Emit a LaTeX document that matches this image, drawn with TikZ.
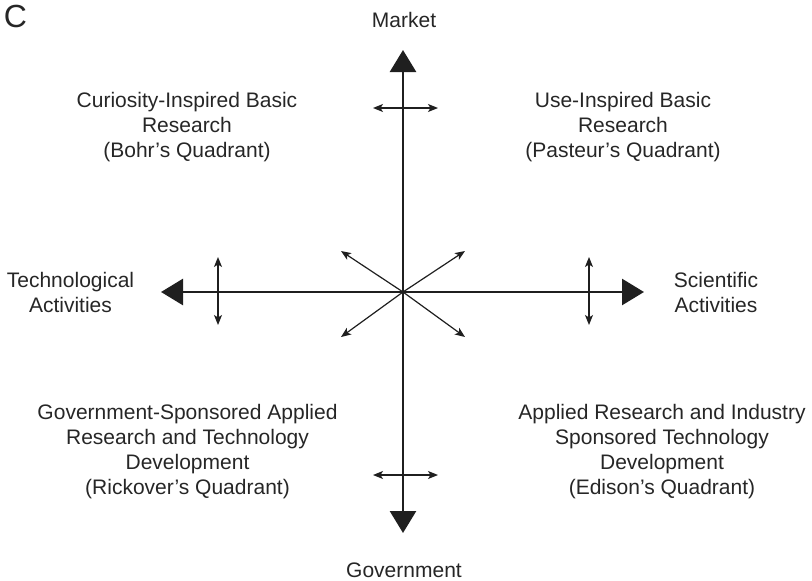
\documentclass[tikz,border=0pt]{standalone}
\usepackage{fontspec}
\setmainfont{Liberation Sans}
\usetikzlibrary{arrows.meta}
\tikzset{
  lbl/.style={font=\fontsize{21}{25}\selectfont, inner sep=0pt, align=center, anchor=base, text=black!85},
  axis/.style={line width=2.7pt, draw=black!88, -{Triangle[length=22pt,width=26pt]}},
  small/.style={line width=1.2pt, draw=black!88, {Stealth[length=10pt,width=8pt,inset=2.5pt]}-{Stealth[length=10pt,width=8pt,inset=2.5pt]}},
  diag/.style={line width=1.2pt, draw=black!88, -{Stealth[length=10pt,width=8pt,inset=2.5pt]}}
}
\begin{document}
\begin{tikzpicture}[x=1pt,y=-1pt]
\useasboundingbox (0,0) rectangle (812,581);
\coordinate (O) at (403,292);
\coordinate (N) at (403,50);
\coordinate (S) at (403,533);
\coordinate (W) at (161,292);
\coordinate (E) at (644,292);
\draw[axis] (O) -- (N);
\draw[axis] (O) -- (S);
\draw[axis] (O) -- (W);
\draw[axis] (O) -- (E);
% small double arrows
\coordinate (t1) at (373,108); \coordinate (t2) at (438,108);
\coordinate (b1) at (373,475); \coordinate (b2) at (438,475);
\coordinate (l1) at (218,257); \coordinate (l2) at (218,325);
\coordinate (r1) at (589,257); \coordinate (r2) at (589,325);
\draw[small] (t1) -- (t2);
\draw[small] (b1) -- (b2);
\draw[small] (l1) -- (l2);
\draw[small] (r1) -- (r2);
% diagonals
\coordinate (ne) at (465,251);
\coordinate (nw) at (341,251);
\coordinate (se) at (465,337);
\coordinate (sw) at (341,337);
\draw[diag] (O) -- (ne);
\draw[diag] (O) -- (nw);
\draw[diag] (O) -- (se);
\draw[diag] (O) -- (sw);
% labels (base anchor = baseline of the last line)
\node[lbl, font=\fontsize{32}{36}\selectfont, anchor=base] (c) at (15.5,27) {C};
\node[lbl] (market) at (404,27) {Market};
\node[lbl] (gov) at (404,577) {Government};
\node[lbl] (tech) at (70.5,312) {Technological\\Activities};
\node[lbl] (sci) at (716,312) {Scientific\\Activities};
\node[lbl] (bohr) at (187,157) {Curiosity-Inspired Basic\\Research\\(Bohr’s Quadrant)};
\node[lbl] (pasteur) at (623,157) {Use-Inspired Basic\\Research\\(Pasteur’s Quadrant)};
\node[lbl] (rick) at (187.5,494) {Government-Sponsored Applied\\Research and Technology\\Development\\(Rickover’s Quadrant)};
\node[lbl] (edison) at (662,494) {Applied Research and Industry\\Sponsored Technology\\Development\\(Edison’s Quadrant)};
\end{tikzpicture}
\end{document}
